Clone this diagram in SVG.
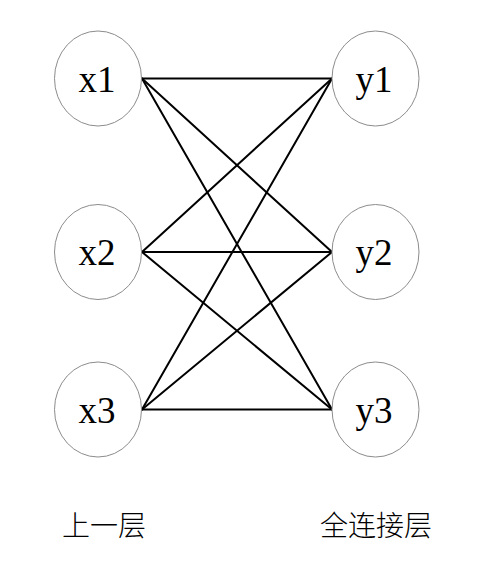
<svg xmlns="http://www.w3.org/2000/svg" width="500" height="578" viewBox="0 0 500 578">
<style>
.node ellipse{fill:#fff;stroke:#8c8c8c;stroke-width:1}
.node text{font-family:"Liberation Serif","Times New Roman",serif;font-size:37px;text-anchor:middle;fill:#000}
.edges line{stroke:#000;stroke-width:2;stroke-linecap:round}
.label{font-family:"Noto Sans CJK SC",sans-serif;font-size:28px;fill:#000;font-weight:300}
</style>
<rect width="500" height="578" fill="#fff"/>
<g class="edges" id="connectors">
<line x1="142" y1="78.5" x2="332" y2="78.5"/>
<line x1="142" y1="78.5" x2="332" y2="252"/>
<line x1="142" y1="78.5" x2="332" y2="409.5"/>
<line x1="142" y1="252" x2="332" y2="78.5"/>
<line x1="142" y1="252" x2="332" y2="252"/>
<line x1="142" y1="252" x2="332" y2="409.5"/>
<line x1="142" y1="409.5" x2="332" y2="78.5"/>
<line x1="142" y1="409.5" x2="332" y2="252"/>
<line x1="142" y1="409.5" x2="332" y2="409.5"/>
</g>
<g class="node" id="x1"><ellipse cx="98" cy="78.5" rx="43.5" ry="47.5"/><text x="97" y="92">x1</text></g>
<g class="node" id="x2"><ellipse cx="98" cy="252" rx="43.5" ry="47.5"/><text x="97" y="265">x2</text></g>
<g class="node" id="x3"><ellipse cx="98" cy="409.5" rx="43.5" ry="47.5"/><text x="97" y="422.5">x3</text></g>
<g class="node" id="y1"><ellipse cx="375.5" cy="78.5" rx="43.5" ry="47.5"/><text x="374" y="92">y1</text></g>
<g class="node" id="y2"><ellipse cx="375.5" cy="252" rx="43.5" ry="47.5"/><text x="374" y="265">y2</text></g>
<g class="node" id="y3"><ellipse cx="375.5" cy="409.5" rx="43.5" ry="47.5"/><text x="374" y="422.5">y3</text></g>
<text class="label" x="62" y="536">上一层</text>
<text class="label" x="320" y="536">全连接层</text>
</svg>
